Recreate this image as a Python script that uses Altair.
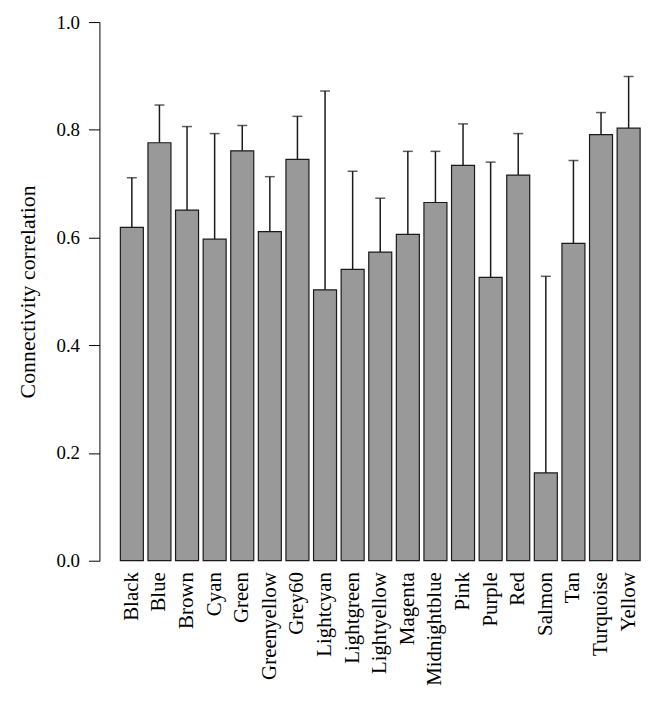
import altair as alt
import pandas as pd

modules = ["Black", "Blue", "Brown", "Cyan", "Green", "Greenyellow", "Grey60",
           "Lightcyan", "Lightgreen", "Lightyellow", "Magenta", "Midnightblue",
           "Pink", "Purple", "Red", "Salmon", "Tan", "Turquoise", "Yellow"]
correlation = [0.619, 0.776, 0.651, 0.597, 0.761, 0.611, 0.745,
               0.503, 0.541, 0.573, 0.606, 0.665,
               0.734, 0.526, 0.716, 0.163, 0.589, 0.791, 0.803]
upper = [0.711, 0.846, 0.806, 0.793, 0.808, 0.713, 0.825,
         0.872, 0.723, 0.673, 0.760, 0.760,
         0.811, 0.740, 0.793, 0.528, 0.743, 0.832, 0.899]
y_ticks = [0.0, 0.2, 0.4, 0.6, 0.8, 1.0]

df = pd.DataFrame({"module": modules, "value": correlation, "upper": upper})

FONT = "Liberation Serif"

x_enc = alt.X(
    "module:N",
    sort=modules,
    title=None,
    scale=alt.Scale(paddingInner=0.167, paddingOuter=0.468, align=0.81),
    axis=alt.Axis(labelAngle=-90, domain=False, ticks=False, labelPadding=11,
                  labelFont=FONT, labelFontSize=21, labelColor="#000000",
                  labelAlign="right", labelBaseline="middle"),
)
y_scale = alt.Scale(domain=[0, 1], nice=False, zero=True)

bars = alt.Chart(df).mark_bar(
    fill="#999999", stroke="#1a1a1a", strokeWidth=1.2
).encode(
    x=x_enc,
    y=alt.Y(
        "value:Q",
        scale=y_scale,
        title="Connectivity correlation",
        axis=alt.Axis(values=y_ticks, format=".1f", grid=False,
                      tickSize=11, tickColor="#000000", tickWidth=1,
                      domainColor="#000000", domainWidth=1,
                      labelPadding=9, labelFont=FONT, labelFontSize=19,
                      labelColor="#000000",
                      titleFont=FONT, titleFontSize=22, titleFontWeight="normal",
                      titleColor="#000000", titlePadding=17),
    ),
)

whisker = alt.Chart(df).mark_rule(color="#1a1a1a", strokeWidth=1.5).encode(
    x=alt.X("module:N", sort=modules),
    y=alt.Y("value:Q", scale=y_scale),
    y2="upper:Q",
)

cap = alt.Chart(df).mark_tick(color="#1a1a1a", size=10, thickness=1.5).encode(
    x=alt.X("module:N", sort=modules),
    y=alt.Y("upper:Q", scale=y_scale),
)

chart = (bars + whisker + cap).properties(
    width=549,
    height=542,
    autosize=alt.AutoSizeParams(type="none"),
    padding={"left": 92, "top": 12, "right": 5, "bottom": 140},
).configure(background="white").configure_view(strokeWidth=0, stroke="transparent")

chart.save("out.html", embed_options={"renderer": "svg", "actions": False})
